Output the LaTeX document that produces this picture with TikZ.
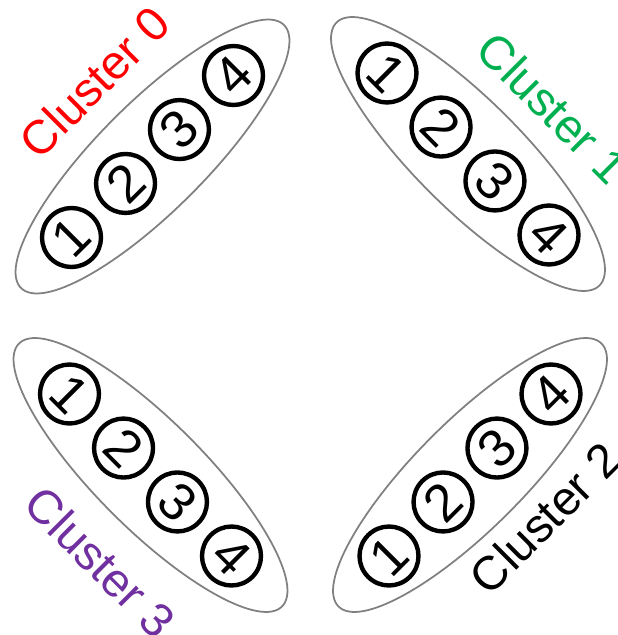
\documentclass[tikz,border=0pt]{standalone}
\usepackage{fontspec}
\setmainfont{Liberation Sans}
\usetikzlibrary{positioning,shapes.geometric,calc}
\definecolor{clRed}   {RGB}{255,  0,  0}
\definecolor{clGreen} {RGB}{  0,176, 80}
\definecolor{clPurple}{RGB}{112, 48,160}
\definecolor{clGrey}  {RGB}{128,128,128}

\begin{document}
\begin{tikzpicture}[x=0.02cm,y=-0.02cm,
  every node/.style={font=\fontsize{27}{31}\selectfont},
  hull/.style={ellipse,draw=clGrey,line width=1pt,inner sep=0pt,outer sep=0pt,
               minimum width=7.44cm,minimum height=2.16cm},
  member/.style={circle,draw=black,line width=2.5pt,inner sep=0pt,
                 minimum size=1.18cm,font=\fontsize{30}{34}\selectfont},
  cllbl/.style={inner sep=0pt}
]
\useasboundingbox (0,0) rectangle (618,635);
\clip (0,0) rectangle (618,635);

% cluster 0
\node[hull,rotate=45] (E0) at (152.5,156.5) {};
\foreach \i/\f in {1/-0.616,2/-0.205,3/0.205,4/0.616}
  \node[member,rotate=45] (c0\i) at ($(E0.center)!\f!(E0.east)$) {\i};
\node[cllbl,text=clRed,rotate=45] (L0) at (94.5,82) {Cluster 0};

% cluster 1
\node[hull,rotate=-45] (E1) at (468,154) {};
\foreach \i/\f in {1/-0.616,2/-0.205,3/0.205,4/0.616}
  \node[member,rotate=-45] (c1\i) at ($(E1.center)!\f!(E1.east)$) {\i};
\node[cllbl,text=clGreen,rotate=-45] (L1) at (553,108) {Cluster 1};

% cluster 2
\node[hull,rotate=45] (E2) at (470,475) {};
\foreach \i/\f in {1/-0.616,2/-0.205,3/0.205,4/0.616}
  \node[member,rotate=45] (c2\i) at ($(E2.center)!\f!(E2.east)$) {\i};
\node[cllbl,text=black,rotate=45] (L2) at (545,518) {Cluster 2};

% cluster 3
\node[hull,rotate=-45] (E3) at (150.5,475) {};
\foreach \i/\f in {1/-0.616,2/-0.205,3/0.205,4/0.616}
  \node[member,rotate=-45] (c3\i) at ($(E3.center)!\f!(E3.east)$) {\i};
\node[cllbl,text=clPurple,rotate=-45] (L3) at (100.5,562) {Cluster 3};
\end{tikzpicture}
\end{document}
